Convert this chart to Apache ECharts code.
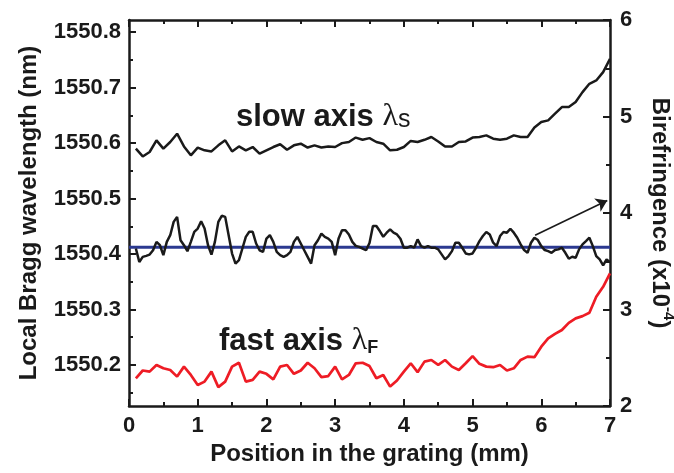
<!DOCTYPE html>
<html>
<head>
<meta charset="utf-8">
<script src="https://cdn.jsdelivr.net/npm/echarts@6/dist/echarts.min.js"></script>
<style>html,body{margin:0;padding:0;background:#fff}#chart{width:674px;height:473px}</style>
</head>
<body>
<div id="chart"></div>
<script>
// ---------- data ----------
const posCoarse = [0.1,0.2,0.3,0.4,0.5,0.6,0.7,0.8,0.9,1.0,1.1,1.2,1.3,1.4,1.5,1.6,1.7,1.8,1.9,2.0,
  2.1,2.2,2.3,2.4,2.5,2.6,2.7,2.8,2.9,3.0,3.1,3.2,3.3,3.4,3.5,3.6,3.7,3.8,3.9,4.0,
  4.1,4.2,4.3,4.4,4.5,4.6,4.7,4.8,4.9,5.0,5.1,5.2,5.3,5.4,5.5,5.6,5.7,5.8,5.9,6.0,
  6.1,6.2,6.3,6.4,6.5,6.6,6.7,6.8,6.9,7.0];
const slowAxis = [1550.590,1550.576,1550.584,1550.605,1550.590,1550.602,1550.617,1550.594,1550.578,1550.592,
  1550.587,1550.585,1550.596,1550.605,1550.585,1550.594,1550.587,1550.593,1550.581,1550.587,
  1550.593,1550.598,1550.588,1550.596,1550.599,1550.592,1550.596,1550.592,1550.594,1550.593,
  1550.600,1550.602,1550.610,1550.606,1550.609,1550.602,1550.599,1550.587,1550.588,1550.593,
  1550.604,1550.602,1550.606,1550.611,1550.603,1550.594,1550.594,1550.602,1550.603,1550.610,
  1550.611,1550.614,1550.608,1550.606,1550.608,1550.614,1550.611,1550.611,1550.628,1550.638,
  1550.641,1550.653,1550.665,1550.665,1550.674,1550.692,1550.707,1550.713,1550.728,1550.752];
const fastAxis = [1550.176,1550.190,1550.188,1550.200,1550.194,1550.191,1550.179,1550.197,1550.182,1550.164,
  1550.170,1550.188,1550.160,1550.170,1550.197,1550.204,1550.170,1550.173,1550.188,1550.184,
  1550.174,1550.197,1550.200,1550.184,1550.190,1550.204,1550.194,1550.178,1550.180,1550.197,
  1550.174,1550.182,1550.203,1550.204,1550.198,1550.176,1550.182,1550.161,1550.172,1550.188,
  1550.203,1550.187,1550.206,1550.209,1550.200,1550.209,1550.197,1550.191,1550.203,1550.216,
  1550.202,1550.197,1550.196,1550.200,1550.190,1550.194,1550.209,1550.215,1550.214,1550.233,
  1550.248,1550.256,1550.263,1550.276,1550.284,1550.288,1550.294,1550.323,1550.341,1550.365];
const posFine = [0.10,0.15,0.20,0.25,0.30,0.35,0.40,0.45,0.50,0.55,0.60,0.65,0.70,0.75,0.80,0.85,0.90,0.95,
  1.00,1.05,1.10,1.15,1.20,1.25,1.30,1.35,1.40,1.45,1.50,1.55,1.60,1.65,1.70,1.75,1.80,1.85,1.90,1.95,
  2.00,2.05,2.10,2.15,2.20,2.25,2.30,2.35,2.40,2.45,2.50,2.55,2.60,2.65,2.70,2.75,2.80,2.85,2.90,2.95,
  3.00,3.05,3.10,3.15,3.20,3.25,3.30,3.35,3.40,3.45,3.50,3.55,3.60,3.65,3.70,3.75,3.80,3.85,3.90,3.95,
  4.00,4.05,4.10,4.15,4.20,4.25,4.30,4.35,4.40,4.45,4.50,4.55,4.60,4.65,4.70,4.75,4.80,4.85,4.90,4.95,
  5.00,5.05,5.10,5.15,5.20,5.25,5.30,5.35,5.40,5.45,5.50,5.55,5.60,5.65,5.70,5.75,5.80,5.85,5.90,5.95,
  6.00,6.05,6.10,6.15,6.20,6.25,6.30,6.35,6.40,6.45,6.50,6.55,6.60,6.65,6.70,6.75,6.80,6.85,6.90,6.95,7.00];
const birefringence = [3.632,3.493,3.545,3.556,3.569,3.614,3.701,3.666,3.563,3.701,3.770,3.908,3.960,3.718,3.666,3.604,3.701,3.805,
  3.839,3.915,3.839,3.666,3.569,3.701,3.908,3.971,3.960,3.770,3.580,3.476,3.511,3.632,3.753,3.805,3.805,3.684,3.614,3.597,
  3.735,3.770,3.701,3.597,3.563,3.545,3.563,3.597,3.701,3.753,3.684,3.614,3.545,3.476,3.666,3.718,3.787,3.753,3.735,3.701,
  3.563,3.735,3.822,3.822,3.777,3.701,3.659,3.649,3.632,3.614,3.690,3.865,3.865,3.813,3.754,3.796,3.830,3.796,3.778,3.733,
  3.640,3.640,3.657,3.640,3.726,3.657,3.640,3.657,3.640,3.640,3.623,3.571,3.519,3.554,3.605,3.692,3.692,3.640,3.581,3.571,
  3.581,3.640,3.709,3.761,3.803,3.778,3.692,3.657,3.761,3.803,3.796,3.837,3.796,3.744,3.675,3.616,3.588,3.692,3.744,3.720,
  3.657,3.616,3.605,3.588,3.616,3.623,3.640,3.588,3.526,3.547,3.536,3.623,3.675,3.709,3.744,3.657,3.554,3.519,3.457,3.519,3.491];
const meanPos = [0, 7];
const meanBiref = [3.645, 3.645];
const arrowFrom = [5.91, 3.77];
const arrowTo = [6.96, 4.13];
const leftMajorTicks = [1550.2,1550.3,1550.4,1550.5,1550.6,1550.7,1550.8];
const leftMinorTicks = [1550.15,1550.25,1550.35,1550.45,1550.55,1550.65,1550.75];

// ---------- chart ----------
const pair = (xs, ys) => xs.map((x, i) => [x, ys[i]]);
const INK = '#1a1a1a';
const FONT = 'Liberation Sans';
const tickLabel = { fontFamily: FONT, fontWeight: 'bold', fontSize: 22, color: INK };
const axisLine = { show: true, lineStyle: { color: INK, width: 2.5 } };
const nameStyle = { fontFamily: FONT, fontWeight: 'bold', fontSize: 24, color: INK };

const chart = echarts.init(document.getElementById('chart'), null, { renderer: 'canvas' });
chart.setOption({
  animation: false,
  backgroundColor: '#ffffff',
  grid: { left: 129, right: 64, top: 20, bottom: 67, containLabel: false, outerBoundsMode: 'none' },
  xAxis: [
    { type: 'value', position: 'bottom', min: 0, max: 7, interval: 1,
      axisLine, axisTick: { inside: true, length: 7, lineStyle: { color: INK, width: 2 } },
      minorTick: { show: true, splitNumber: 2, length: 4, lineStyle: { color: INK, width: 2 } },
      axisLabel: Object.assign({ margin: 9 }, tickLabel),
      splitLine: { show: false },
      name: 'Position in the grating (mm)', nameLocation: 'middle', nameGap: 36, nameTextStyle: nameStyle },
    { type: 'value', position: 'top', min: 0, max: 7, interval: 1,
      axisLine, axisTick: { inside: true, length: 7, lineStyle: { color: INK, width: 2 } },
      minorTick: { show: true, splitNumber: 2, length: 4, lineStyle: { color: INK, width: 2 } },
      axisLabel: { show: false }, splitLine: { show: false } }
  ],
  yAxis: [
    { type: 'value', position: 'left', min: 1550.126, max: 1550.822,
      axisLine,
      axisTick: { inside: true, length: 7, customValues: leftMajorTicks, lineStyle: { color: INK, width: 2 } },
      axisLabel: Object.assign({ margin: 8, customValues: leftMajorTicks, formatter: v => Number(v).toFixed(1) }, tickLabel),
      splitLine: { show: false },
      name: 'Local Bragg wavelength (nm)', nameLocation: 'middle', nameRotate: 90, nameGap: 88, nameTextStyle: nameStyle },
    { type: 'value', position: 'left', min: 1550.126, max: 1550.822,
      axisLine: { show: false },
      axisTick: { inside: true, length: 4, customValues: leftMinorTicks, lineStyle: { color: INK, width: 2 } },
      axisLabel: { show: false }, splitLine: { show: false } },
    { type: 'value', position: 'right', min: 2, max: 6, interval: 1,
      axisLine, axisTick: { inside: true, length: 7, lineStyle: { color: INK, width: 2 } },
      minorTick: { show: true, splitNumber: 2, length: 4, lineStyle: { color: INK, width: 2 } },
      axisLabel: Object.assign({ margin: 10 }, tickLabel),
      splitLine: { show: false },
      name: '{n|Birefringence (x10}{s|-4}{n|)}', nameLocation: 'middle', nameRotate: -90, nameGap: 38,
      nameTextStyle: Object.assign({}, nameStyle, { rich: {
        n: { fontFamily: FONT, fontWeight: 'bold', fontSize: 24, color: INK, lineHeight: 28, verticalAlign: 'bottom' },
        s: { fontFamily: FONT, fontWeight: 'bold', fontSize: 15, color: INK, lineHeight: 28, verticalAlign: 'top' } } }) }
  ],
  series: [
    { name: 'slow', type: 'line', xAxisIndex: 0, yAxisIndex: 0, data: pair(posCoarse, slowAxis),
      showSymbol: false, lineStyle: { color: INK, width: 2.5 }, silent: true },
    { name: 'fast', type: 'line', xAxisIndex: 0, yAxisIndex: 0, data: pair(posCoarse, fastAxis),
      showSymbol: false, lineStyle: { color: '#ee1c25', width: 2.7 }, silent: true },
    { name: 'mean', type: 'line', xAxisIndex: 0, yAxisIndex: 2, data: pair(meanPos, meanBiref),
      showSymbol: false, lineStyle: { color: '#2b3990', width: 2.8 }, silent: true },
    { name: 'biref', type: 'line', xAxisIndex: 0, yAxisIndex: 2, data: pair(posFine, birefringence),
      showSymbol: false, lineStyle: { color: INK, width: 2.5 }, silent: true,
      markLine: { silent: true, animation: false, symbol: ['none', 'arrow'], symbolSize: 11,
        label: { show: false }, lineStyle: { color: INK, width: 1.6, type: 'solid' },
        data: [[{ coord: arrowFrom }, { coord: arrowTo }]] } }
  ],
  graphic: [
    { type: 'text', x: 236, y: 117, silent: true,
      style: { text: '{a|slow axis }{b|λ}{c|s}', verticalAlign: 'middle', align: 'left',
        rich: {
          a: { fontFamily: FONT, fontWeight: 'bold', fontSize: 31, lineHeight: 31, fill: INK, verticalAlign: 'bottom' },
          b: { fontFamily: 'Liberation Serif', fontSize: 32, lineHeight: 32, fill: INK, verticalAlign: 'bottom' },
          c: { fontFamily: FONT, fontSize: 25, lineHeight: 25, fill: INK, verticalAlign: 'bottom' }
        } } },
    { type: 'text', x: 219, y: 341, silent: true,
      style: { text: '{a|fast axis }{b|λ}{c|F}', verticalAlign: 'middle', align: 'left',
        rich: {
          a: { fontFamily: FONT, fontWeight: 'bold', fontSize: 31, lineHeight: 31, fill: INK, verticalAlign: 'bottom' },
          b: { fontFamily: 'Liberation Serif', fontSize: 32, lineHeight: 32, fill: INK, verticalAlign: 'bottom' },
          c: { fontFamily: FONT, fontWeight: 'bold', fontSize: 18, lineHeight: 18, fill: INK, verticalAlign: 'bottom' }
        } } }
  ]
});
</script>
</body>
</html>
